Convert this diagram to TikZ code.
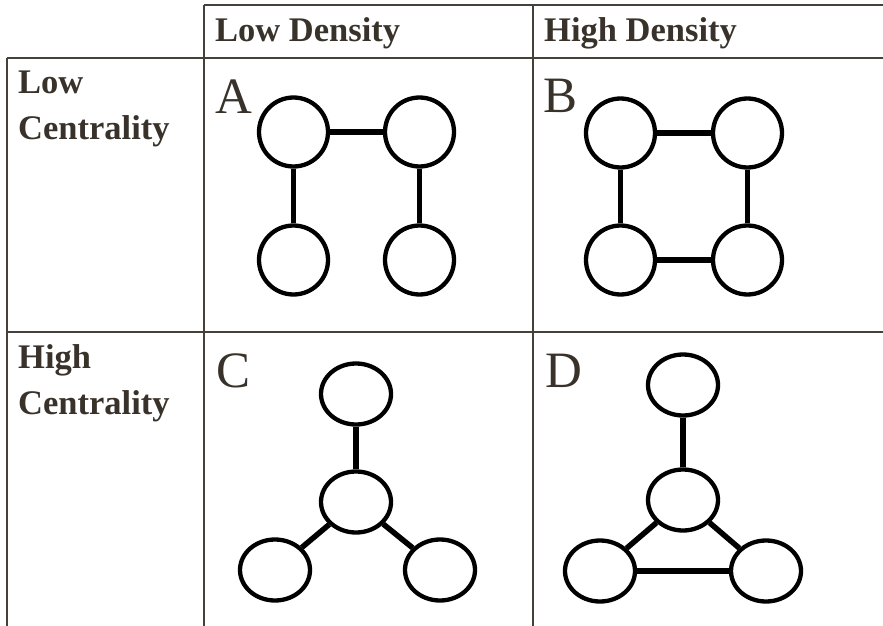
\documentclass[tikz,border=0pt]{standalone}
\usepackage{fontspec}
\setmainfont{Liberation Serif}
\usetikzlibrary{shapes.geometric}
\definecolor{ink}{HTML}{38322B}
\definecolor{rule}{HTML}{45403A}
\tikzset{
  grid/.style={draw=rule, line width=2pt},
  head/.style={anchor=base west, inner sep=0pt, text=ink,
    font=\fontsize{34.5}{46}\selectfont\bfseries, align=left},
  tag/.style={anchor=base west, inner sep=0pt, text=ink,
    font=\fontsize{51}{51}\selectfont},
  vtx/.style={circle, draw=black, line width=4.3pt, minimum size=69pt, inner sep=0pt},
  ovx/.style={ellipse, draw=black, line width=4.3pt, minimum width=70pt,
    minimum height=61pt, inner sep=0pt},
  edge/.style={draw=black, line width=5.5pt}
}
\begin{document}
\begin{tikzpicture}[x=1pt, y=-1pt]
  \useasboundingbox (0,0) rectangle (883,626);

  % table rules
  \coordinate (t1) at (204,5);   \coordinate (t2) at (883,5);
  \coordinate (h1) at (7,58);    \coordinate (h2) at (883,58);
  \coordinate (m1) at (7,332);   \coordinate (m2) at (883,332);
  \coordinate (v0a) at (7,58);   \coordinate (v0b) at (7,626);
  \coordinate (v1a) at (204,5);  \coordinate (v1b) at (204,626);
  \coordinate (v2a) at (533,5);  \coordinate (v2b) at (533,626);
  \draw[grid] (t1) -- (t2);
  \draw[grid] (h1) -- (h2);
  \draw[grid] (m1) -- (m2);
  \draw[grid] (v0a) -- (v0b);
  \draw[grid] (v1a) -- (v1b);
  \draw[grid] (v2a) -- (v2b);

  % headings (row labels anchored on their last line)
  \node[head] (lowd) at (215,42) {Low Density};
  \node[head] (highd) at (544,42) {High Density};
  \node[head] (lowc) at (18,139) {Low\\Centrality};
  \node[head] (highc) at (18,414) {High\\Centrality};

  % panel letters
  \node[tag] (la) at (215,113) {A};
  \node[tag] (lb) at (543,112) {B};
  \node[tag] (lc) at (216,387) {C};
  \node[tag] (ld) at (545,387) {D};

  % A: two separate pairs joined at the top
  \node[vtx] (a1) at (293.5,132) {};
  \node[vtx] (a2) at (419.5,132) {};
  \node[vtx] (a3) at (293.5,260) {};
  \node[vtx] (a4) at (419.5,260) {};
  \draw[edge] (a1) -- (a2);
  \draw[edge] (a1) -- (a3);
  \draw[edge] (a2) -- (a4);

  % B: closed square
  \node[vtx] (b1) at (620.5,133) {};
  \node[vtx] (b2) at (747.5,133) {};
  \node[vtx] (b3) at (620.5,260) {};
  \node[vtx] (b4) at (747.5,260) {};
  \draw[edge] (b1) -- (b2);
  \draw[edge] (b1) -- (b3);
  \draw[edge] (b2) -- (b4);
  \draw[edge] (b3) -- (b4);

  % C: star around a hub
  \node[ovx] (c1) at (356,394) {};
  \node[ovx] (c2) at (356,502) {};
  \node[ovx] (c3) at (275,570) {};
  \node[ovx] (c4) at (440,570) {};
  \draw[edge] (c1) -- (c2);
  \draw[edge] (c2) -- (c3);
  \draw[edge] (c2) -- (c4);

  % D: hub with a closed triangle
  \node[ovx] (d1) at (683,385) {};
  \node[ovx] (d2) at (683,500) {};
  \node[ovx] (d3) at (600,571) {};
  \node[ovx] (d4) at (766,571) {};
  \draw[edge] (d1) -- (d2);
  \draw[edge] (d2) -- (d3);
  \draw[edge] (d2) -- (d4);
  \draw[edge] (d3) -- (d4);
\end{tikzpicture}
\end{document}
